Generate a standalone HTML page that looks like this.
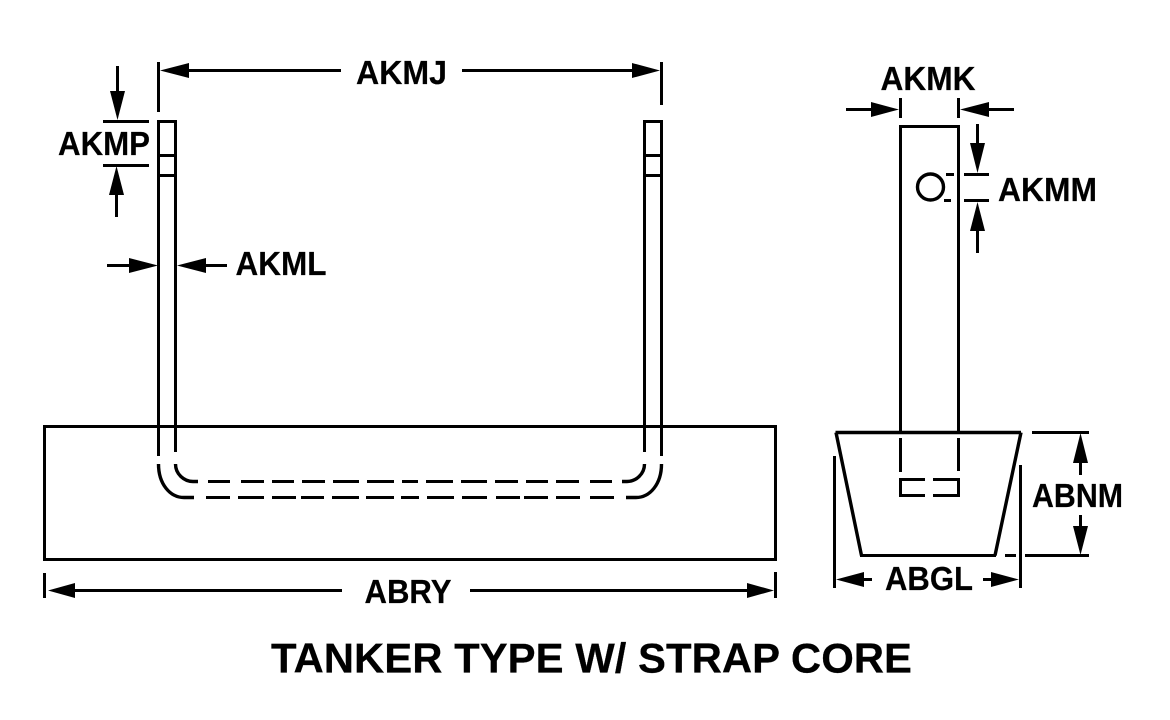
<!DOCTYPE html>
<html><head><meta charset="utf-8"><style>
html,body{margin:0;padding:0;background:#fff;width:1170px;height:720px;overflow:hidden}
svg{display:block}
text{font-family:"Liberation Sans",Arial,sans-serif;font-weight:bold;font-size:33px;fill:#000;stroke:#000;stroke-width:.2px}
.l{fill:none;stroke:#000;stroke-width:3;shape-rendering:crispEdges}
.c{fill:none;stroke:#000;stroke-width:3.4}
polygon{fill:#000;stroke:none}
</style></head><body>
<svg width="1170" height="720" viewBox="0 0 1170 720" xmlns="http://www.w3.org/2000/svg">
<rect width="1170" height="720" fill="#fff"/>
<!-- base block -->
<rect class="l" x="44.5" y="426.5" width="731" height="133"/>
<!-- strap left -->
<path class="l" d="M158.5 62V112M158.5 121.5H175.5M158.5 120V456M175.5 120V452M158.5 155.5H175.5M158.5 175.5H175.5"/>
<!-- strap right -->
<path class="l" d="M661.5 62V105M644.5 121.5H661.5M644.5 120V452M661.5 120V456M644.5 155.5H661.5M644.5 175.5H661.5"/>
<!-- arcs -->
<path class="c" d="M158.5 464C158.5 484 170 497.5 184 497.5H194"/>
<path class="c" d="M175.5 464C175.5 474 184 481.5 193 481.5H198"/>
<path class="c" d="M661.5 464C661.5 484 650 497.5 636 497.5H626"/>
<path class="c" d="M644.5 464C644.5 474 636 481.5 627 481.5H622"/>
<!-- dashes -->
<path class="l" d="M208 481.5H230M241 481.5H264M272 481.5H294M302 481.5H325M333 481.5H359M367 481.5H394M402 481.5H418M426 481.5H453M461 481.5H487M495 481.5H518M526 481.5H548M556 481.5H579M590 481.5H612"/>
<path class="l" d="M206 497.5H230M238 497.5H264M272 497.5H296M301 497.5H324M332 497.5H359M366 497.5H394M401 497.5H419M427 497.5H454M462 497.5H487M496 497.5H520M524 497.5H548M556 497.5H580M590 497.5H614"/>
<!-- AKMJ -->
<path class="l" d="M189 70.5H341M462 70.5H632"/>
<polygon points="160,70.5 189,63 189,78"/>
<polygon points="660,70.5 632,63 632,78"/>
<text x="356" y="84" textLength="91" lengthAdjust="spacingAndGlyphs">AKMJ</text>
<!-- AKMP -->
<path class="l" d="M117.5 66V92M103 121.5H149M103 165.5H149M116.5 194V217"/>
<polygon points="117.5,120 110,91 125,91"/>
<polygon points="116.5,166 109,195 124,195"/>
<text x="58" y="155" textLength="92" lengthAdjust="spacingAndGlyphs">AKMP</text>
<!-- AKML -->
<path class="l" d="M107 265.5H130M205 265.5H227"/>
<polygon points="158,265.5 129,258 129,273"/>
<polygon points="177,265.5 206,258 206,273"/>
<text x="235.500" y="275" textLength="91" lengthAdjust="spacingAndGlyphs">AKML</text>
<!-- ABRY -->
<path class="l" d="M44.5 573V598M775.5 572V598M75 590.5H342M470 590.500H747"/>
<polygon points="48,590.5 75,583 75,598"/>
<polygon points="774,590.5 747,583 747,598"/>
<text x="364.500" y="603" textLength="87" lengthAdjust="spacingAndGlyphs">ABRY</text>
<!-- right view stem -->
<path class="l" d="M900.5 126.500H958.500M900.500 125V432M958.500 125V432M900.500 98V118M958.500 98V118"/>
<circle class="c" cx="930.500" cy="187" r="13"/>
<path class="l" d="M946 174.500H954M944 200.500H951"/>
<!-- AKMK -->
<path class="l" d="M846 109.500H872M988 109.500H1014"/>
<polygon points="899,109.500 871,102 871,117"/>
<polygon points="960,109.500 989,102 989,117"/>
<text x="880.500" y="90" textLength="95" lengthAdjust="spacingAndGlyphs">AKMK</text>
<!-- AKMM -->
<path class="l" d="M977.500 124V144M964 174.500H989M964 200.500H989M977.500 230V253"/>
<polygon points="977.500,173 970,143 985,143"/>
<polygon points="977.500,202 970,231 985,231"/>
<text x="998" y="201" textLength="99" lengthAdjust="spacingAndGlyphs">AKMM</text>
<!-- trapezoid -->
<path class="c" d="M835.500 432.500H1021M836 432.500L861.500 555.500M1021 432.500L995 555.500"/>
<path class="l" d="M860 555.500H996"/>
<path class="l" d="M900.500 438V472M958.500 438V471M925 479.500H900.500V495.500H925M933 479.500H958.500V495.500H933"/>
<!-- ABGL -->
<path class="l" d="M834.500 456V588M1020.500 465V588M864 579.500H872M983 579.500H991"/>
<polygon points="836,579.500 864,572 864,587"/>
<polygon points="1019,579.500 991,572 991,587"/>
<text x="885" y="590" textLength="88" lengthAdjust="spacingAndGlyphs">ABGL</text>
<!-- ABNM -->
<path class="l" d="M1032 432.500H1089M1005 555.500H1016M1025 555.500H1089M1080.500 462V475M1080.500 515V527"/>
<polygon points="1080.500,433 1073,463 1088,463"/>
<polygon points="1080.500,555 1073,526 1088,526"/>
<text x="1032" y="507" textLength="91" lengthAdjust="spacingAndGlyphs">ABNM</text>
<!-- title -->
<text x="271" y="672.500" textLength="641" lengthAdjust="spacingAndGlyphs" style="font-size:42px">TANKER TYPE W/ STRAP CORE</text>
</svg>
</body></html>
